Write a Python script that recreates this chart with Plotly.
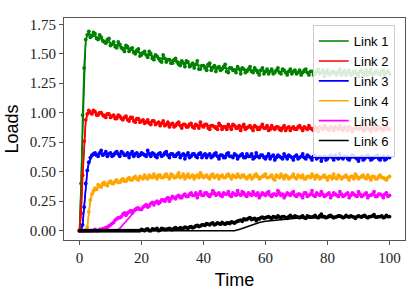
import plotly.graph_objects as go

# ---------------- data ----------------
names = ["Link 1", "Link 2", "Link 3", "Link 4", "Link 5", "Link 6"]
colors = ["#008000", "#ff0000", "#0000ff", "#ffa500", "#ff00ff", "#000000"]

# noisy samples at whole time units (t = 0..100)
t_whole = list(range(0, 101))
# noisy samples at half time units (t = 0.5..99.5)
t_half = [i + 0.5 for i in range(0, 100)]

link1_pts = [0.00, 0.98, 1.62, 1.69, 1.65, 1.67, 1.62, 1.64, 1.60, 1.62,
             1.57, 1.60, 1.55, 1.58, 1.54, 1.57, 1.52, 1.55, 1.50, 1.54,
             1.49, 1.52, 1.47, 1.50, 1.45, 1.48, 1.44, 1.49, 1.43, 1.45,
             1.42, 1.46, 1.41, 1.44, 1.39, 1.43, 1.40, 1.38, 1.44, 1.37,
             1.40, 1.36, 1.42, 1.38, 1.35, 1.39, 1.37, 1.41, 1.34, 1.38,
             1.36, 1.39, 1.33, 1.37, 1.35, 1.39, 1.34, 1.36, 1.32, 1.38,
             1.35, 1.33, 1.37, 1.34, 1.38, 1.33, 1.36, 1.32, 1.37, 1.35,
             1.33, 1.36, 1.34, 1.37, 1.32, 1.35, 1.33, 1.37, 1.34, 1.31,
             1.36, 1.33, 1.35, 1.32, 1.37, 1.34, 1.32, 1.36, 1.33, 1.35,
             1.31, 1.36, 1.34, 1.32, 1.37, 1.33, 1.35, 1.32, 1.36, 1.34,
             1.33]
link1_half = [0.40, 1.38, 1.66, 1.64, 1.68, 1.63, 1.66, 1.61, 1.59, 1.63,
              1.58, 1.56, 1.60, 1.55, 1.52, 1.56, 1.54, 1.51, 1.53, 1.48,
              1.51, 1.49, 1.52, 1.46, 1.49, 1.46, 1.43, 1.46, 1.45, 1.42,
              1.45, 1.43, 1.40, 1.42, 1.44, 1.39, 1.42, 1.41, 1.37, 1.40,
              1.38, 1.41, 1.36, 1.40, 1.38, 1.36, 1.39, 1.35, 1.38, 1.36,
              1.34, 1.37, 1.38, 1.34, 1.37, 1.35, 1.38, 1.34, 1.36, 1.33,
              1.37, 1.35, 1.33, 1.36, 1.34, 1.37, 1.34, 1.35, 1.33, 1.36,
              1.34, 1.32, 1.36, 1.34, 1.35, 1.32, 1.35, 1.33, 1.36, 1.34,
              1.32, 1.35, 1.33, 1.35, 1.32, 1.36, 1.34, 1.32, 1.35, 1.33,
              1.35, 1.32, 1.36, 1.34, 1.32, 1.35, 1.33, 1.35, 1.32, 1.35]

link2_pts = [0.00, 0.47, 0.94, 1.02, 0.99, 1.01, 0.98, 1.00, 0.97, 0.99,
             0.96, 0.98, 0.95, 0.97, 0.94, 0.97, 0.93, 0.96, 0.92, 0.95,
             0.93, 0.91, 0.94, 0.90, 0.93, 0.91, 0.89, 0.93, 0.90, 0.88,
             0.91, 0.89, 0.92, 0.87, 0.90, 0.88, 0.91, 0.87, 0.89, 0.92,
             0.88, 0.90, 0.86, 0.89, 0.87, 0.91, 0.86, 0.88, 0.90, 0.86,
             0.89, 0.87, 0.85, 0.90, 0.87, 0.89, 0.85, 0.88, 0.86, 0.90,
             0.87, 0.85, 0.89, 0.86, 0.88, 0.85, 0.89, 0.87, 0.85, 0.88,
             0.86, 0.89, 0.85, 0.87, 0.89, 0.86, 0.88, 0.84, 0.87, 0.89,
             0.86, 0.88, 0.85, 0.87, 0.89, 0.85, 0.87, 0.88, 0.84, 0.87,
             0.86, 0.89, 0.85, 0.87, 0.84, 0.88, 0.86, 0.87, 0.85, 0.88,
             0.86]
link2_half = [0.15, 0.76, 0.99, 1.00, 1.02, 0.98, 1.00, 0.98, 0.96, 0.99,
              0.97, 0.95, 0.98, 0.95, 0.96, 0.94, 0.96, 0.93, 0.95, 0.92,
              0.94, 0.92, 0.91, 0.93, 0.90, 0.92, 0.91, 0.89, 0.92, 0.90,
              0.88, 0.91, 0.89, 0.90, 0.88, 0.90, 0.88, 0.90, 0.87, 0.89,
              0.90, 0.87, 0.89, 0.88, 0.86, 0.89, 0.88, 0.86, 0.88, 0.90,
              0.87, 0.89, 0.88, 0.86, 0.88, 0.87, 0.89, 0.86, 0.88, 0.87,
              0.89, 0.86, 0.87, 0.88, 0.86, 0.87, 0.85, 0.88, 0.87, 0.86,
              0.88, 0.87, 0.88, 0.86, 0.87, 0.85, 0.87, 0.88, 0.86, 0.87,
              0.85, 0.87, 0.88, 0.86, 0.87, 0.88, 0.85, 0.87, 0.86, 0.88,
              0.87, 0.85, 0.88, 0.86, 0.87, 0.85, 0.88, 0.86, 0.87, 0.86]

link3_pts = [0.00, 0.05, 0.40, 0.58, 0.64, 0.66, 0.63, 0.68, 0.65, 0.63,
             0.66, 0.64, 0.67, 0.63, 0.66, 0.64, 0.62, 0.67, 0.65, 0.63,
             0.66, 0.64, 0.68, 0.63, 0.65, 0.62, 0.66, 0.64, 0.67, 0.62,
             0.65, 0.63, 0.66, 0.64, 0.61, 0.66, 0.63, 0.65, 0.62, 0.66,
             0.64, 0.62, 0.65, 0.63, 0.66, 0.61, 0.64, 0.62, 0.66, 0.63,
             0.65, 0.61, 0.64, 0.62, 0.65, 0.63, 0.61, 0.66, 0.62, 0.64,
             0.61, 0.65, 0.63, 0.60, 0.64, 0.62, 0.65, 0.61, 0.63, 0.60,
             0.64, 0.62, 0.65, 0.61, 0.63, 0.60, 0.64, 0.62, 0.59, 0.63,
             0.61, 0.64, 0.60, 0.62, 0.65, 0.61, 0.63, 0.60, 0.64, 0.62,
             0.59, 0.63, 0.61, 0.64, 0.60, 0.62, 0.64, 0.60, 0.63, 0.61,
             0.62]
link3_half = [0.00, 0.20, 0.51, 0.62, 0.65, 0.64, 0.66, 0.64, 0.67, 0.65,
              0.63, 0.66, 0.65, 0.67, 0.64, 0.66, 0.65, 0.63, 0.66, 0.64,
              0.65, 0.63, 0.65, 0.66, 0.63, 0.65, 0.63, 0.66, 0.64, 0.65,
              0.63, 0.65, 0.62, 0.65, 0.64, 0.62, 0.65, 0.63, 0.65, 0.62,
              0.65, 0.64, 0.62, 0.65, 0.63, 0.64, 0.62, 0.65, 0.63, 0.62,
              0.64, 0.63, 0.65, 0.62, 0.63, 0.65, 0.62, 0.63, 0.64, 0.62,
              0.63, 0.61, 0.64, 0.62, 0.63, 0.61, 0.63, 0.64, 0.62, 0.63,
              0.61, 0.63, 0.62, 0.64, 0.62, 0.63, 0.61, 0.63, 0.62, 0.60,
              0.63, 0.62, 0.64, 0.61, 0.62, 0.63, 0.61, 0.62, 0.63, 0.61,
              0.62, 0.60, 0.63, 0.62, 0.61, 0.63, 0.61, 0.62, 0.60, 0.63]

link4_pts = [0.00, 0.00, 0.00, 0.16, 0.31, 0.36, 0.39, 0.37, 0.41, 0.38,
             0.42, 0.40, 0.43, 0.41, 0.44, 0.42, 0.45, 0.43, 0.46, 0.43,
             0.45, 0.47, 0.44, 0.46, 0.48, 0.44, 0.47, 0.45, 0.48, 0.44,
             0.47, 0.45, 0.49, 0.46, 0.44, 0.48, 0.46, 0.44, 0.47, 0.49,
             0.45, 0.47, 0.44, 0.48, 0.46, 0.44, 0.47, 0.45, 0.48, 0.44,
             0.46, 0.48, 0.45, 0.47, 0.44, 0.47, 0.45, 0.48, 0.44, 0.46,
             0.48, 0.45, 0.47, 0.43, 0.46, 0.48, 0.44, 0.46, 0.45, 0.48,
             0.44, 0.46, 0.47, 0.44, 0.46, 0.48, 0.44, 0.46, 0.45, 0.47,
             0.43, 0.46, 0.48, 0.44, 0.46, 0.45, 0.47, 0.43, 0.46, 0.48,
             0.44, 0.46, 0.45, 0.47, 0.43, 0.46, 0.44, 0.47, 0.45, 0.43,
             0.46]
link4_half = [0.00, 0.00, 0.03, 0.26, 0.34, 0.35, 0.38, 0.40, 0.39, 0.41,
              0.40, 0.42, 0.41, 0.43, 0.42, 0.44, 0.43, 0.45, 0.44, 0.46,
              0.44, 0.45, 0.47, 0.45, 0.46, 0.47, 0.45, 0.47, 0.46, 0.48,
              0.45, 0.47, 0.45, 0.48, 0.46, 0.45, 0.47, 0.46, 0.45, 0.47,
              0.46, 0.45, 0.47, 0.45, 0.47, 0.46, 0.45, 0.47, 0.46, 0.47,
              0.45, 0.46, 0.47, 0.45, 0.46, 0.44, 0.47, 0.46, 0.45, 0.47,
              0.45, 0.46, 0.44, 0.47, 0.45, 0.46, 0.47, 0.44, 0.46, 0.45,
              0.47, 0.45, 0.44, 0.46, 0.45, 0.46, 0.47, 0.44, 0.46, 0.45,
              0.46, 0.44, 0.45, 0.47, 0.44, 0.46, 0.45, 0.46, 0.44, 0.46,
              0.45, 0.47, 0.44, 0.45, 0.46, 0.44, 0.46, 0.45, 0.44, 0.45]

link5_pts = [0.00, 0.00, 0.00, 0.00, 0.00, 0.01, 0.00, 0.01, 0.02, 0.03,
             0.05, 0.07, 0.10, 0.11, 0.14, 0.13, 0.16, 0.15, 0.18, 0.19,
             0.18, 0.21, 0.20, 0.23, 0.22, 0.25, 0.24, 0.26, 0.27, 0.25,
             0.29, 0.27, 0.30, 0.28, 0.31, 0.29, 0.32, 0.30, 0.28, 0.33,
             0.30, 0.32, 0.29, 0.34, 0.30, 0.32, 0.29, 0.31, 0.33, 0.29,
             0.31, 0.34, 0.30, 0.32, 0.29, 0.31, 0.33, 0.30, 0.28, 0.32,
             0.30, 0.33, 0.29, 0.31, 0.34, 0.30, 0.28, 0.32, 0.30, 0.33,
             0.29, 0.31, 0.28, 0.32, 0.30, 0.34, 0.29, 0.31, 0.33, 0.29,
             0.31, 0.28, 0.32, 0.30, 0.33, 0.29, 0.31, 0.28, 0.32, 0.30,
             0.33, 0.29, 0.31, 0.28, 0.30, 0.33, 0.29, 0.31, 0.28, 0.32,
             0.30]
link5_half = [0.00, 0.00, 0.00, 0.00, 0.00, 0.00, 0.01, 0.015, 0.025, 0.04,
              0.06, 0.09, 0.11, 0.12, 0.15, 0.15, 0.17, 0.17, 0.19, 0.18,
              0.20, 0.22, 0.21, 0.24, 0.24, 0.23, 0.26, 0.25, 0.28, 0.27,
              0.28, 0.29, 0.28, 0.30, 0.29, 0.31, 0.30, 0.32, 0.31, 0.30,
              0.32, 0.30, 0.31, 0.32, 0.31, 0.30, 0.32, 0.31, 0.30, 0.32,
              0.30, 0.31, 0.33, 0.30, 0.32, 0.30, 0.31, 0.32, 0.30, 0.31,
              0.32, 0.30, 0.31, 0.30, 0.32, 0.31, 0.30, 0.31, 0.32, 0.30,
              0.31, 0.30, 0.32, 0.29, 0.31, 0.30, 0.32, 0.30, 0.31, 0.30,
              0.32, 0.30, 0.31, 0.29, 0.31, 0.30, 0.32, 0.30, 0.31, 0.29,
              0.31, 0.30, 0.32, 0.30, 0.31, 0.29, 0.31, 0.30, 0.31, 0.29]

link6_pts = [0.00, 0.00, 0.00, 0.00, 0.00, 0.00, 0.00, 0.00, 0.00, 0.00,
             0.00, 0.00, 0.00, 0.00, 0.00, 0.00, 0.00, 0.00, 0.00, 0.00,
             0.010, 0.000, 0.015, 0.000, 0.010, 0.020, 0.005, 0.015, 0.010, 0.020,
             0.010, 0.025, 0.015, 0.020, 0.030, 0.020, 0.035, 0.030, 0.045, 0.040,
             0.050, 0.060, 0.050, 0.065, 0.055, 0.060, 0.070, 0.055, 0.065, 0.075,
             0.065, 0.080, 0.090, 0.100, 0.095, 0.110, 0.100, 0.085, 0.100, 0.115,
             0.110, 0.120, 0.105, 0.115, 0.125, 0.110, 0.120, 0.105, 0.130, 0.115,
             0.120, 0.110, 0.125, 0.105, 0.120, 0.115, 0.130, 0.110, 0.140, 0.120,
             0.115, 0.130, 0.110, 0.120, 0.125, 0.110, 0.130, 0.115, 0.120, 0.105,
             0.125, 0.115, 0.130, 0.110, 0.120, 0.135, 0.115, 0.120, 0.110, 0.130,
             0.120]
link6_half = [0.00, 0.00, 0.00, 0.00, 0.00, 0.00, 0.00, 0.00, 0.00, 0.00,
              0.00, 0.00, 0.00, 0.00, 0.00, 0.00, 0.00, 0.00, 0.00, 0.00,
              0.005, 0.010, 0.000, 0.015, 0.010, 0.000, 0.020, 0.010, 0.015, 0.010,
              0.020, 0.015, 0.025, 0.020, 0.025, 0.030, 0.025, 0.040, 0.035, 0.050,
              0.045, 0.055, 0.060, 0.050, 0.065, 0.055, 0.060, 0.065, 0.060, 0.070,
              0.075, 0.085, 0.080, 0.095, 0.105, 0.095, 0.105, 0.100, 0.110, 0.105,
              0.115, 0.110, 0.120, 0.110, 0.115, 0.120, 0.110, 0.120, 0.115, 0.125,
              0.115, 0.120, 0.110, 0.125, 0.115, 0.120, 0.115, 0.125, 0.120, 0.110,
              0.125, 0.120, 0.115, 0.125, 0.120, 0.115, 0.120, 0.125, 0.115, 0.120,
              0.120, 0.125, 0.115, 0.120, 0.125, 0.115, 0.120, 0.125, 0.115, 0.120]

# smooth (model) curves
t_smooth = [0, 0.5, 1, 1.5, 2, 2.5, 3, 3.5, 4, 5, 6, 7, 8, 10, 12, 13, 14, 15, 16,
            18, 20, 22, 25, 28, 30, 35, 40, 45, 50, 52, 54, 56, 58, 60, 65, 70,
            80, 90, 100]
link1_fit = [0, 0.35, 0.95, 1.40, 1.60, 1.66, 1.67, 1.665, 1.66, 1.65, 1.64, 1.625,
             1.61, 1.59, 1.57, 1.56, 1.55, 1.545, 1.535, 1.52, 1.505, 1.49, 1.47,
             1.452, 1.44, 1.415, 1.395, 1.38, 1.37, 1.366, 1.363, 1.36, 1.357,
             1.355, 1.35, 1.345, 1.34, 1.337, 1.335]
link2_fit = [0, 0.15, 0.45, 0.75, 0.92, 0.98, 1.0, 1.005, 1.005, 1.0, 0.995, 0.99,
             0.985, 0.975, 0.965, 0.96, 0.955, 0.951, 0.947, 0.94, 0.932, 0.925,
             0.915, 0.906, 0.90, 0.893, 0.89, 0.885, 0.88, 0.879, 0.878, 0.877,
             0.876, 0.875, 0.873, 0.872, 0.87, 0.867, 0.865]
link3_fit = [0, 0, 0.05, 0.20, 0.38, 0.50, 0.57, 0.61, 0.63, 0.645, 0.65, 0.652,
             0.652, 0.652, 0.652, 0.652, 0.651, 0.651, 0.651, 0.65, 0.65, 0.649,
             0.648, 0.646, 0.645, 0.642, 0.64, 0.637, 0.635, 0.634, 0.633, 0.632,
             0.631, 0.63, 0.628, 0.625, 0.62, 0.618, 0.615]
link4_fit = [0, 0, 0, 0, 0, 0.02, 0.16, 0.26, 0.30, 0.34, 0.365, 0.38, 0.39, 0.405,
             0.415, 0.42, 0.425, 0.428, 0.432, 0.44, 0.445, 0.448, 0.452, 0.455,
             0.456, 0.458, 0.458, 0.458, 0.457, 0.457, 0.456, 0.456, 0.455, 0.455,
             0.454, 0.453, 0.451, 0.45, 0.449]
link5_fit = [0, 0, 0, 0, 0, 0, 0, 0, 0, 0, 0, 0, 0, 0, 0, 0.02, 0.05, 0.08, 0.11,
             0.17, 0.19, 0.215, 0.245, 0.27, 0.285, 0.30, 0.31, 0.31, 0.31, 0.31,
             0.31, 0.31, 0.31, 0.31, 0.308, 0.305, 0.305, 0.302, 0.30]
link6_fit = [0, 0, 0, 0, 0, 0, 0, 0, 0, 0, 0, 0, 0, 0, 0, 0, 0, 0, 0, 0, 0, 0, 0,
             0, 0, 0, 0, 0, 0, 0.015, 0.035, 0.055, 0.07, 0.08, 0.095, 0.105,
             0.112, 0.117, 0.12]

x_ticks = [0, 20, 40, 60, 80, 100]
y_ticks = [0.00, 0.25, 0.50, 0.75, 1.00, 1.25, 1.50, 1.75]

whole = [link1_pts, link2_pts, link3_pts, link4_pts, link5_pts, link6_pts]
half = [link1_half, link2_half, link3_half, link4_half, link5_half, link6_half]
fits = [link1_fit, link2_fit, link3_fit, link4_fit, link5_fit, link6_fit]


def interleave(tw, yw, th, yh):
    pairs = sorted(list(zip(tw, yw)) + list(zip(th, yh)))
    return [p[0] for p in pairs], [p[1] for p in pairs]


# ---------------- figure ----------------
fig = go.Figure()
for name, col, pw, ph, f in zip(names, colors, whole, half, fits):
    xs, ys = interleave(t_whole, pw, t_half, ph)
    fig.add_trace(go.Scatter(
        x=xs, y=ys, mode="lines+markers",
        line=dict(color=col, width=1.5),
        marker=dict(color=col, size=3.8),
        showlegend=False, hoverinfo="skip"))
    fig.add_trace(go.Scatter(
        x=t_smooth, y=f, mode="lines", name=name,
        line=dict(color=col, width=1.6)))

frame = "#555555"
fig.update_layout(
    width=416, height=293,
    margin=dict(l=64, r=11, t=18, b=53),
    paper_bgcolor="white", plot_bgcolor="white",
    showlegend=True,
    legend=dict(
        x=0.97, y=0.968, xanchor="right", yanchor="top",
        bgcolor="rgba(255,255,255,0.85)", bordercolor="#cccccc", borderwidth=1,
        font=dict(family="Liberation Sans, Arial, sans-serif", size=13, color="#000"),
        tracegroupgap=0,
    ),
    xaxis=dict(
        range=[-5, 105], tickmode="array", tickvals=x_ticks,
        ticktext=[str(v) for v in x_ticks],
        showgrid=False, zeroline=False,
        showline=True, mirror=True, linecolor=frame, linewidth=1,
        ticks="outside", ticklen=4, tickcolor=frame,
        tickfont=dict(family="Liberation Serif, Times New Roman, serif", size=15, color="#222"),
        title=dict(text="Time", standoff=8,
                   font=dict(family="Liberation Sans, Arial, sans-serif", size=18, color="#000")),
        automargin=False,
    ),
    yaxis=dict(
        range=[-0.079, 1.803], tickmode="array", tickvals=y_ticks,
        ticktext=[f"{v:.2f}" for v in y_ticks],
        showgrid=False, zeroline=False,
        showline=True, mirror=True, linecolor=frame, linewidth=1,
        ticks="outside", ticklen=4, tickcolor=frame,
        tickfont=dict(family="Liberation Serif, Times New Roman, serif", size=15, color="#222"),
        title=dict(text="Loads", standoff=6,
                   font=dict(family="Liberation Sans, Arial, sans-serif", size=18, color="#000")),
        automargin=False,
    ),
)

fig.write_html("out.html",
               config={"displayModeBar": False},
               post_script="document.body.style.margin='0';document.body.style.padding='0';")
